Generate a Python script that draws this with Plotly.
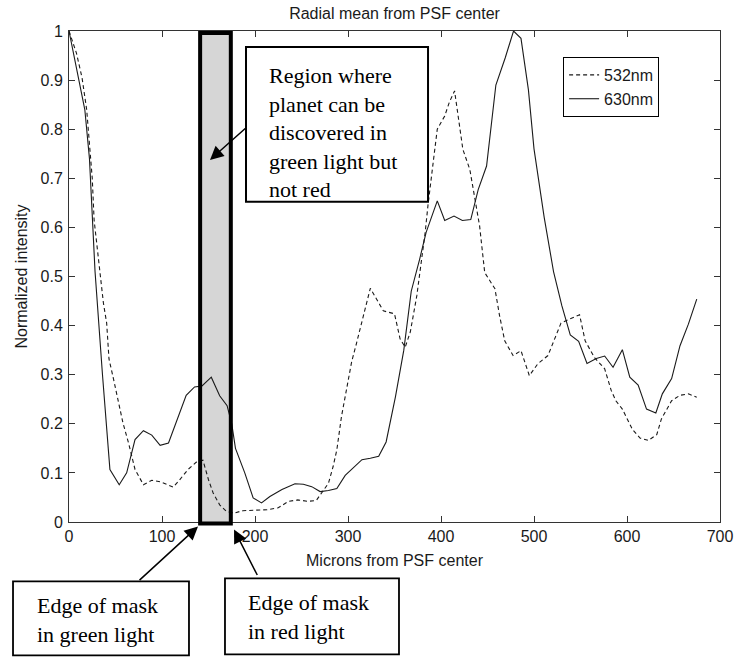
import plotly.graph_objects as go

# ---- data ----
x_532 = [0, 8, 14, 19, 22, 25, 27, 31, 34, 37, 40.5, 43, 48, 53, 58, 64, 71, 80, 89, 98,
         105, 112, 119, 128, 137, 144, 150, 155, 162, 169, 177, 187, 200, 213, 225, 236,
         246, 257, 266, 272, 279, 284, 288, 293, 300, 304, 309, 315, 320, 324, 338, 350,
         356, 361.5, 367, 374, 383, 386, 391.5, 396, 404, 409, 414.6, 418, 423.5, 431,
         434.5, 441.5, 447, 458, 463, 468.5, 477.5, 486, 495, 504, 515, 529, 539, 549,
         555, 565, 576, 583, 588, 595, 606, 614, 623, 632, 637, 648, 657, 666, 675]
y_532 = [1.0, 0.955, 0.905, 0.84, 0.77, 0.70, 0.615, 0.55, 0.50, 0.446, 0.405, 0.332, 0.29,
         0.246, 0.202, 0.161, 0.107, 0.076, 0.085, 0.082, 0.076, 0.071, 0.086, 0.107, 0.122,
         0.126, 0.086, 0.059, 0.035, 0.022, 0.018, 0.023, 0.024, 0.025, 0.029, 0.042, 0.045,
         0.042, 0.044, 0.059, 0.079, 0.113, 0.147, 0.215, 0.286, 0.327, 0.363, 0.41, 0.45,
         0.476, 0.43, 0.424, 0.373, 0.356, 0.387, 0.461, 0.59, 0.645, 0.731, 0.80, 0.827,
         0.855, 0.878, 0.834, 0.759, 0.718, 0.677, 0.603, 0.508, 0.475, 0.42, 0.369, 0.339,
         0.349, 0.298, 0.322, 0.339, 0.405, 0.414, 0.422, 0.369, 0.335, 0.312, 0.268, 0.247,
         0.23, 0.188, 0.171, 0.166, 0.178, 0.21, 0.247, 0.258, 0.261, 0.254]

x_630 = [0, 10, 17, 22, 25, 28, 36, 44, 54, 62, 71, 80, 89, 98, 107, 116, 126, 135, 143,
         153, 162, 170, 175, 179, 189, 198, 207, 216, 229, 243, 252, 261, 270, 279, 288,
         297, 306, 315, 324, 333, 341, 351, 360, 368, 377, 384, 396, 404, 414, 423, 432,
         440, 449, 459, 469, 478, 486, 494, 500, 511, 521, 530, 539, 548, 557, 567, 576,
         585, 595, 603, 612, 621, 631, 638, 648, 657, 666, 675]
y_630 = [1.0, 0.907, 0.84, 0.74, 0.62, 0.51, 0.30, 0.107, 0.076, 0.10, 0.168, 0.186, 0.177,
         0.156, 0.161, 0.209, 0.258, 0.275, 0.277, 0.295, 0.257, 0.237, 0.20, 0.15, 0.10,
         0.049, 0.039, 0.052, 0.066, 0.078, 0.077, 0.072, 0.062, 0.064, 0.068, 0.095, 0.11,
         0.127, 0.13, 0.134, 0.163, 0.255, 0.35, 0.47, 0.535, 0.59, 0.654, 0.614, 0.623,
         0.614, 0.616, 0.677, 0.725, 0.89, 0.945, 1.0, 0.985, 0.88, 0.76, 0.62, 0.51, 0.44,
         0.381, 0.368, 0.323, 0.333, 0.338, 0.315, 0.351, 0.295, 0.279, 0.23, 0.222, 0.261,
         0.292, 0.359, 0.403, 0.454]

series_names = ["532nm", "630nm"]
x_ticks = [0, 100, 200, 300, 400, 500, 600, 700]
y_ticks = [0, 0.1, 0.2, 0.3, 0.4, 0.5, 0.6, 0.7, 0.8, 0.9, 1]

green_mask_edge = 141   # microns
red_mask_edge = 174     # microns

SANS = "Liberation Sans, Arial, sans-serif"
SERIF = "Liberation Serif, Times New Roman, serif"
INK = "#1a1a1a"

fig = go.Figure()
fig.add_trace(go.Scatter(x=x_532, y=y_532, mode="lines", name=series_names[0],
                         line=dict(color=INK, width=1.1, dash="4px,3px")))
fig.add_trace(go.Scatter(x=x_630, y=y_630, mode="lines", name=series_names[1],
                         line=dict(color=INK, width=1.1)))

# shaded region between the mask edges (fill below curves, border above)
fig.add_shape(type="rect", xref="x", yref="paper", x0=green_mask_edge, x1=red_mask_edge,
              y0=-0.003, y1=0.996, fillcolor="#d6d6d6", line=dict(width=0), layer="below")
fig.add_shape(type="rect", xref="x", yref="paper", x0=green_mask_edge, x1=red_mask_edge,
              y0=-0.003, y1=0.996, line=dict(color="black", width=4), layer="above")

# text boxes
fig.add_shape(type="rect", xref="paper", yref="paper", x0=0.2719, x1=0.5515, y0=0.6521,
              y1=0.9675, line=dict(color="black", width=2), fillcolor="white", layer="above")
fig.add_shape(type="rect", xref="paper", yref="paper", x0=-0.0860, x1=0.1843, y0=-0.2716,
              y1=-0.1211, line=dict(color="black", width=1.8), fillcolor="white", layer="above")
fig.add_shape(type="rect", xref="paper", yref="paper", x0=0.2396, x1=0.5069, y0=-0.2696,
              y1=-0.1150, line=dict(color="black", width=1.8), fillcolor="white", layer="above")

serif_font = dict(family=SERIF, size=22, color="black")
fig.add_annotation(xref="paper", yref="paper", x=0.3041, y=0.7925, xanchor="left",
                   yanchor="middle", align="left", showarrow=False, font=serif_font,
                   text="Region where<br>planet can be<br>discovered in<br>green light but<br>not red")
fig.add_annotation(xref="paper", yref="paper", x=-0.0522, y=-0.2004, xanchor="left",
                   yanchor="middle", align="left", showarrow=False, font=serif_font,
                   text="Edge of mask<br>in green light")
fig.add_annotation(xref="paper", yref="paper", x=0.2719, y=-0.1933, xanchor="left",
                   yanchor="middle", align="left", showarrow=False, font=serif_font,
                   text="Edge of mask<br>in red light")

# arrows
arrow_style = dict(showarrow=True, arrowhead=2, arrowsize=1.8, arrowwidth=1.5,
                   arrowcolor="black", text="", xref="paper", yref="paper")
fig.add_annotation(x=0.2166, y=0.7375, ax=37, ay=-33, **arrow_style)
fig.add_annotation(x=0.1982, y=-0.0092, ax=-60, ay=55, **arrow_style)
fig.add_annotation(x=0.2535, y=-0.0153, ax=24, ay=47, **arrow_style)

axis_common = dict(showline=True, linecolor="#333333", linewidth=1, mirror="ticks",
                   ticks="inside", ticklen=6, tickcolor="#333333", showgrid=False,
                   zeroline=False, tickfont=dict(family=SANS, size=16, color=INK))

fig.update_layout(
    width=734, height=657,
    margin=dict(l=69, r=14, t=31, b=135),
    paper_bgcolor="white", plot_bgcolor="white",
    title=dict(text="Radial mean from PSF center", x=0.5, xref="paper", xanchor="center",
               y=1 - 13 / 657, yanchor="middle", font=dict(family=SANS, size=16, color=INK)),
    xaxis=dict(range=[0, 700], tickvals=x_ticks, ticktext=[str(v) for v in x_ticks],
               title=dict(text="Microns from PSF center", standoff=10,
                          font=dict(family=SANS, size=16, color=INK)),
               automargin=False, **axis_common),
    yaxis=dict(range=[0, 1], tickvals=y_ticks, ticktext=[f"{v:g}" for v in y_ticks],
               title=dict(text="Normalized intensity", standoff=8,
                          font=dict(family=SANS, size=16, color=INK)),
               automargin=False, ticklabelstandoff=2, **axis_common),
    legend=dict(x=0.759, y=0.947, xanchor="left", yanchor="top", bordercolor="black",
                borderwidth=1, bgcolor="white", font=dict(family=SANS, size=16, color=INK),
                tracegroupgap=0, entrywidth=118, entrywidthmode="pixels"),
    showlegend=True,
)

fig.write_html("out.html")
